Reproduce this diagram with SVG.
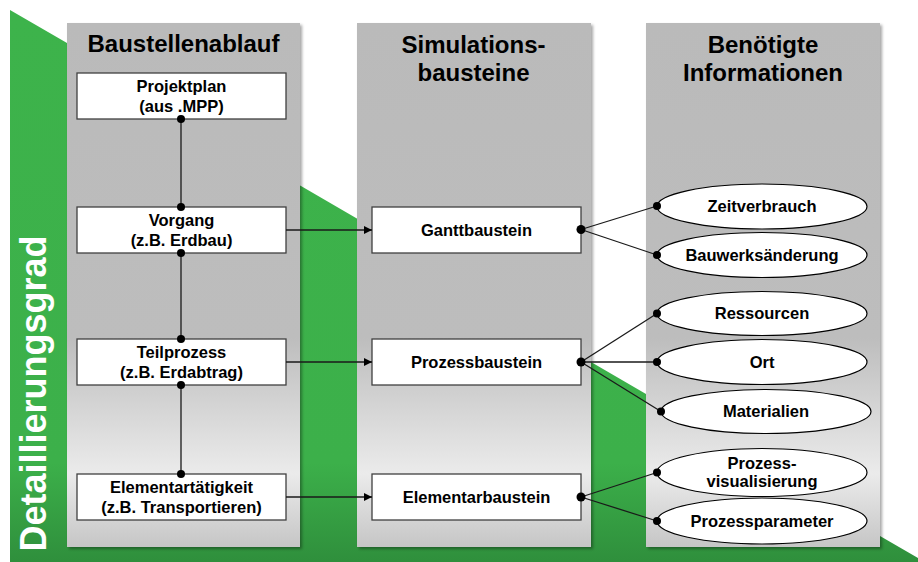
<svg xmlns="http://www.w3.org/2000/svg" width="918" height="562" viewBox="0 0 918 562">
<defs>
<linearGradient id="colg" x1="0" y1="0" x2="0" y2="1">
<stop offset="0" stop-color="#bababa"/>
<stop offset="0.6" stop-color="#bdbdbd"/>
<stop offset="0.86" stop-color="#ebebeb"/>
<stop offset="1" stop-color="#c6c6c6"/>
</linearGradient>
<linearGradient id="greeng" x1="0" y1="0" x2="0" y2="1">
<stop offset="0" stop-color="#3db34b"/>
<stop offset="0.82" stop-color="#3cb04a"/>
<stop offset="1" stop-color="#2f8f3c"/>
</linearGradient>
<filter id="sh" x="-5%" y="-5%" width="115%" height="115%">
<feDropShadow dx="2" dy="2" stdDeviation="1.5" flood-color="#000" flood-opacity="0.35"/>
</filter>
<marker id="arr" viewBox="0 0 10 10" refX="10" refY="5" markerWidth="8" markerHeight="8" markerUnits="userSpaceOnUse" orient="auto">
<path d="M0,0 L10,5 L0,10 z" fill="#000"/>
</marker>
</defs>
<style>
text{font-family:"Liberation Sans",Arial,Helvetica,sans-serif;font-weight:bold;fill:#000;text-anchor:middle}
.title{font-size:24px}
.lbl{font-size:16.5px}
.col{fill:url(#colg);filter:url(#sh)}
.box{fill:#fff;stroke:#404040;stroke-width:1.3}
.ell{fill:#fff;stroke:#000;stroke-width:1.2}
.ln{stroke:#1a1a1a;stroke-width:1.3;fill:none}
.dot{fill:#000}
</style>
<rect width="918" height="562" fill="#fff"/>
<polygon id="green" points="10,10 67,43 184,114 301,186 356,218 473,290 591,362 646,394 880,536 918,558 918,562 10,562" fill="url(#greeng)"/>
<text x="0" y="0" transform="translate(46,393.5) rotate(-90)" style="font-size:36px;fill:#fff">Detaillierungsgrad</text>
<g id="col1"><rect class="col" x="67" y="23" width="233" height="524"/><text class="title" x="183.5" y="52">Baustellenablauf</text></g>
<g id="col2"><rect class="col" x="357" y="23" width="234" height="524"/><text class="title" x="473.5" y="53">Simulations-</text><text class="title" x="473.5" y="81">bausteine</text></g>
<g id="col3"><rect class="col" x="646" y="23" width="234" height="524"/><text class="title" x="763" y="53">Benötigte</text><text class="title" x="763" y="81">Informationen</text></g>
<g id="projektplan"><rect class="box" x="77" y="73" width="209" height="46"/><text class="lbl" x="181.5" y="92">Projektplan</text><text class="lbl" x="181.5" y="112">(aus .MPP)</text></g>
<g id="vorgang"><rect class="box" x="77" y="207" width="209" height="46"/><text class="lbl" x="181.5" y="226">Vorgang</text><text class="lbl" x="181.5" y="246">(z.B. Erdbau)</text></g>
<g id="teilprozess"><rect class="box" x="77" y="339" width="209" height="46"/><text class="lbl" x="181.5" y="358">Teilprozess</text><text class="lbl" x="181.5" y="378">(z.B. Erdabtrag)</text></g>
<g id="elementartaetigkeit"><rect class="box" x="77" y="474" width="209" height="46"/><text class="lbl" x="181.5" y="493">Elementartätigkeit</text><text class="lbl" x="181.5" y="513">(z.B. Transportieren)</text></g>
<g id="ganttbaustein"><rect class="box" x="372" y="207" width="209" height="46"/><text class="lbl" x="476.5" y="236">Ganttbaustein</text></g>
<g id="prozessbaustein"><rect class="box" x="372" y="339" width="209" height="46"/><text class="lbl" x="476.5" y="368">Prozessbaustein</text></g>
<g id="elementarbaustein"><rect class="box" x="372" y="474" width="209" height="46"/><text class="lbl" x="476.5" y="503">Elementarbaustein</text></g>
<g id="zeitverbrauch"><ellipse class="ell" cx="762" cy="206.5" rx="105" ry="22.5"/><text class="lbl" x="762" y="212">Zeitverbrauch</text></g>
<g id="bauwerksaenderung"><ellipse class="ell" cx="762" cy="255" rx="105" ry="22.5"/><text class="lbl" x="762" y="261">Bauwerksänderung</text></g>
<g id="ressourcen"><ellipse class="ell" cx="762" cy="313.5" rx="105" ry="22"/><text class="lbl" x="762" y="319">Ressourcen</text></g>
<g id="ort"><ellipse class="ell" cx="762" cy="362" rx="105" ry="22.5"/><text class="lbl" x="762" y="368">Ort</text></g>
<g id="materialien"><ellipse class="ell" cx="766" cy="411.5" rx="105" ry="22"/><text class="lbl" x="766" y="417">Materialien</text></g>
<g id="prozessvisualisierung"><ellipse class="ell" cx="762" cy="472.5" rx="105" ry="24"/><text class="lbl" x="762" y="469">Prozess-</text><text class="lbl" x="762" y="487">visualisierung</text></g>
<g id="prozessparameter"><ellipse class="ell" cx="762" cy="521" rx="105" ry="23"/><text class="lbl" x="762" y="527">Prozessparameter</text></g>
<g id="connectors">
<line class="ln" x1="181" y1="119" x2="181" y2="207"/>
<line class="ln" x1="181" y1="253" x2="181" y2="339"/>
<line class="ln" x1="181" y1="385" x2="181" y2="474"/>
<line class="ln" x1="286" y1="230" x2="372" y2="230" marker-end="url(#arr)"/>
<line class="ln" x1="286" y1="362" x2="372" y2="362" marker-end="url(#arr)"/>
<line class="ln" x1="286" y1="497" x2="372" y2="497" marker-end="url(#arr)"/>
<line class="ln" x1="581" y1="229.5" x2="657" y2="206"/>
<line class="ln" x1="581" y1="229.5" x2="657" y2="255"/>
<line class="ln" x1="581" y1="362" x2="657" y2="313.5"/>
<line class="ln" x1="581" y1="362" x2="657" y2="362"/>
<line class="ln" x1="581" y1="362" x2="661" y2="411.5"/>
<line class="ln" x1="581" y1="497" x2="657" y2="472.5"/>
<line class="ln" x1="581" y1="497" x2="657" y2="521"/>
<circle class="dot" cx="181" cy="119" r="4"/>
<circle class="dot" cx="181" cy="207" r="4"/>
<circle class="dot" cx="181" cy="253" r="4"/>
<circle class="dot" cx="181" cy="339" r="4"/>
<circle class="dot" cx="181" cy="385" r="4"/>
<circle class="dot" cx="181" cy="474" r="4"/>
<circle class="dot" cx="581" cy="229.5" r="4.5"/>
<circle class="dot" cx="581" cy="362" r="4.5"/>
<circle class="dot" cx="581" cy="497" r="4.5"/>
<circle class="dot" cx="657" cy="206" r="4"/>
<circle class="dot" cx="657" cy="255" r="4"/>
<circle class="dot" cx="657" cy="313.5" r="4"/>
<circle class="dot" cx="657" cy="362" r="4"/>
<circle class="dot" cx="661" cy="411.5" r="4"/>
<circle class="dot" cx="657" cy="472.5" r="4"/>
<circle class="dot" cx="657" cy="521" r="4"/>
</g>
</svg>
